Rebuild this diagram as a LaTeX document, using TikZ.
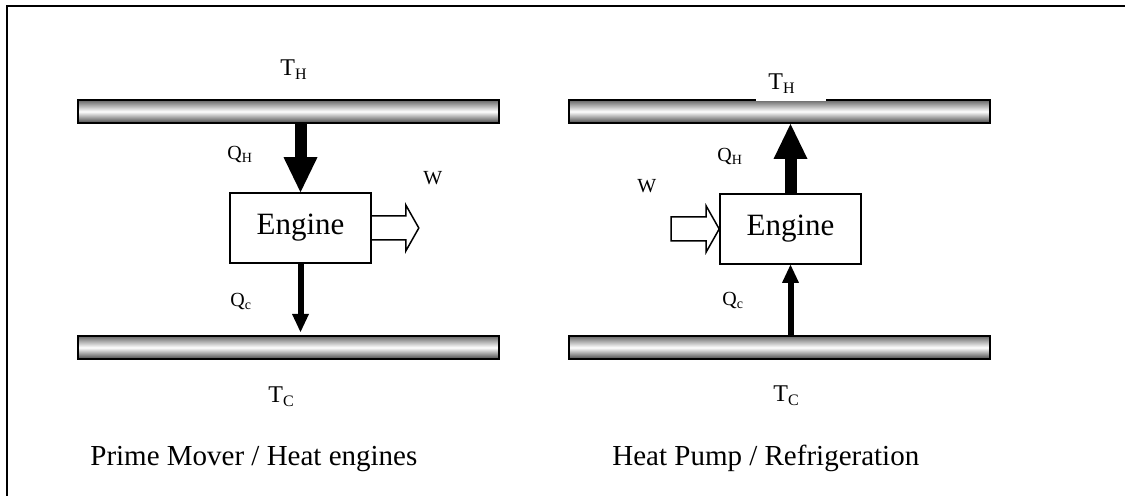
\documentclass[tikz,border=0pt]{standalone}
\usepackage{fontspec}
\setmainfont{Liberation Serif}
\usetikzlibrary{arrows.meta,calc}
\newcommand{\lowsub}[2][8]{\raisebox{-0.3ex}{\fontsize{#1}{#1}\selectfont #2}}
\begin{document}
\begin{tikzpicture}[x=0.5pt,y=-0.5pt,
  bar/.style={draw, line width=1pt, minimum width=210.5pt, minimum height=11.5pt, inner sep=0,
    top color=black!60, bottom color=black!72, middle color=white},
  engbox/.style={draw, line width=0.8pt, minimum width=70.5pt, minimum height=35pt, inner sep=0,
    font=\fontsize{15.5}{18}\selectfont},
  tlabel/.style={anchor=base west, inner sep=0, font=\fontsize{12}{14}\selectfont},
  qlabel/.style={anchor=base west, inner sep=0, font=\fontsize{10}{12}\selectfont},
  captext/.style={anchor=base west, inner sep=0, font=\fontsize{14.5}{17}\selectfont},
  heatbig/.style={line width=6pt, -{Triangle[width=17pt,length=17.5pt,line width=0pt]}},
  heatsmall/.style={line width=3pt, -{Triangle[width=8.5pt,length=9pt,line width=0pt]}},
  workarrow/.style={draw, line width=0.75pt, line join=miter},
  outerframe/.style={line width=1pt}]
\useasboundingbox (0,0) rectangle (1125,496);
\draw[outerframe] (7,505) -- (7,6) -- (1135,6);
% reservoirs
\node[bar] (barHL) at (288.5,111.5) {};
\node[bar] (barCL) at (288.5,347.5) {};
\node[bar] (barHR) at (779,111.5) {};
\node[bar] (barCR) at (779,347.5) {};
% engines
\node[engbox] (engL) at (300.5,228) {Engine};
\node[engbox] (engR) at (790.5,229) {Engine};
% labels
\node[tlabel] (THL) at (280,76) {T\lowsub{H}};
\node[tlabel, fill=white, inner xsep=6pt, inner ysep=2.75pt, text depth=3pt, text height=8pt,
  text width=23pt, align=left] (THR) at (756,90) {T\lowsub{H}};
\node[tlabel] (TCL) at (268,403) {T\lowsub{C}};
\node[tlabel] (TCR) at (773,402) {T\lowsub{C}};
\node[qlabel] (QHL) at (227,160) {Q\lowsub[7]{H}};
\node[qlabel] (QHR) at (717,162) {Q\lowsub[7]{H}};
\node[qlabel] (QCL) at (230,307) {Q\lowsub[7]{c}};
\node[qlabel] (QCR) at (722,306) {Q\lowsub[7]{c}};
\node[qlabel] (WL) at (423,185) {W};
\node[qlabel] (WR) at (637,193) {W};
\node[captext] (capL) at (90,466) {Prime Mover / Heat engines};
\node[captext] (capR) at (612,466) {Heat Pump / Refrigeration};
% heat flows
\draw[heatbig] (engL.north |- barHL.south) -- (engL.north);
\draw[heatsmall, shorten >=1.5pt] (engL.south) -- (engL.south |- barCL.north);
\draw[heatbig] (engR.north) -- (engR.north |- barHR.south);
\draw[heatsmall] (engR.south |- barCR.north) -- (engR.south);
% work arrows
\draw[workarrow] ($(engL.east)+(0,-12)$) -- ++(34,0) -- ++(0,-11) -- ++(13,23) -- ++(-13,23) -- ++(0,-11) -- ++(-34,0);
\draw[workarrow] ($(engR.west)+(-48,-12)$) -- ++(35,0) -- ++(0,-11) -- (engR.west) -- ++(-13,23) -- ++(0,-11) -- ++(-35,0) -- cycle;
\end{tikzpicture}
\end{document}
